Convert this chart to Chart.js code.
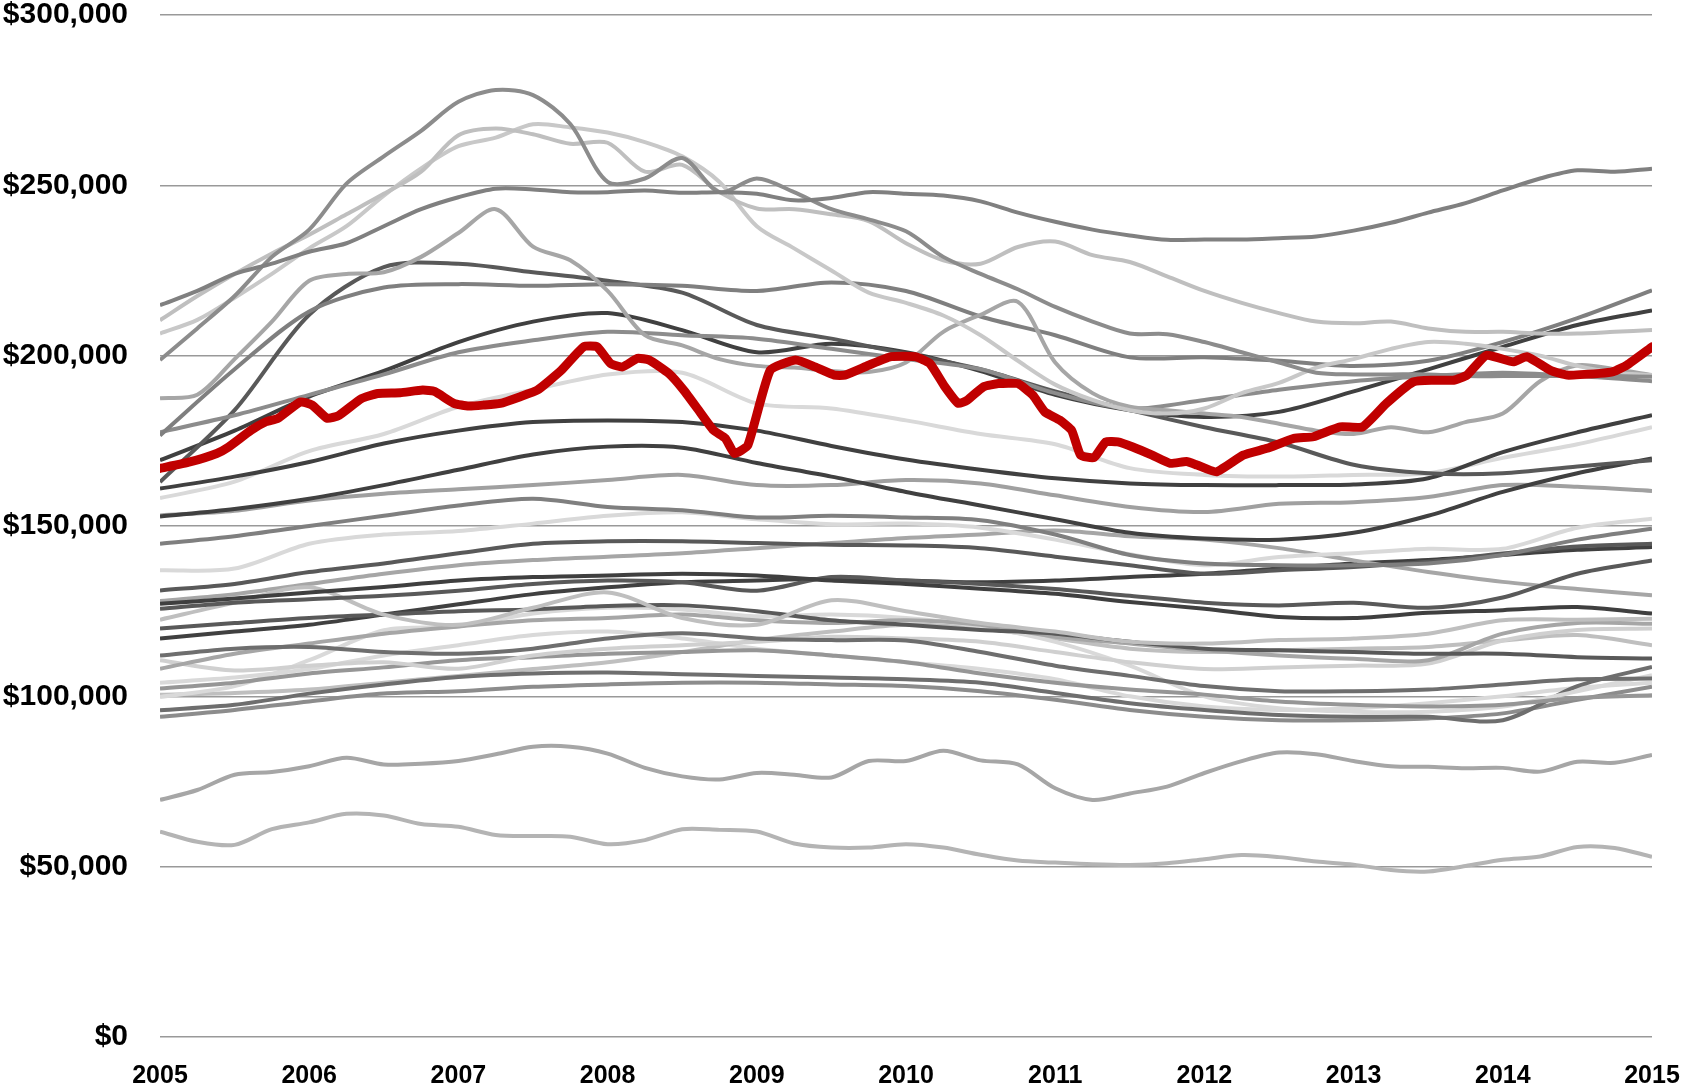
<!DOCTYPE html>
<html lang="en">
<head>
<meta charset="UTF-8">
<title>Home values 2005-2015</title>
<script src="https://cdn.jsdelivr.net/npm/chart.js@4"></script>
<style>
    html, body { margin: 0; padding: 0; background: #ffffff; overflow: hidden; }
    .chart-box { position: relative; width: 1682px; height: 1086px; }
</style>
</head>
<body>
<div class="chart-box"><canvas id="valuesChart"></canvas></div>
<script>
// x positions in years (quarterly and half-yearly readings)
const quarters = Array.from({ length: 41 }, (_, i) => 2005 + i * 0.25);
const halves = Array.from({ length: 21 }, (_, i) => 2005 + i * 0.5);

// values in thousands of dollars
// highlighted series (read at irregular points)
const redYears = [2005.0, 2005.2, 2005.38, 2005.46, 2005.61, 2005.71, 2005.79, 2005.94,
    2006.02, 2006.12, 2006.2, 2006.35, 2006.46, 2006.61, 2006.76, 2006.84, 2006.97,
    2007.07, 2007.17, 2007.28, 2007.41, 2007.53, 2007.69, 2007.84, 2007.93,
    2008.02, 2008.1, 2008.2, 2008.28, 2008.41, 2008.51, 2008.61, 2008.71, 2008.79, 2008.85, 2008.94,
    2009.09, 2009.26, 2009.39, 2009.52, 2009.59, 2009.75, 2009.9,
    2010.06, 2010.16, 2010.26, 2010.35, 2010.41, 2010.52, 2010.62, 2010.75, 2010.85, 2010.93,
    2011.03, 2011.11, 2011.17, 2011.26, 2011.34, 2011.42, 2011.52, 2011.65, 2011.77, 2011.88, 2011.95,
    2012.08, 2012.26, 2012.42, 2012.6, 2012.73, 2012.91,
    2013.06, 2013.22, 2013.4, 2013.53, 2013.67, 2013.76, 2013.89,
    2014.07, 2014.16, 2014.32, 2014.43, 2014.65, 2014.74, 2014.83, 2015.0];
const redValues = [166.9, 168.8, 171.3, 173.2, 178.1, 180.6, 181.6, 186.4,
    185.5, 181.6, 182.5, 187.4, 188.9, 189.1, 189.9, 189.5, 186,
    185.2, 185.5, 186, 187.9, 189.9, 195.7, 202.6, 202.6,
    197.7, 196.7, 199.2, 198.7, 194.8, 189.9, 184, 178.1, 175.7, 171.3, 173.7,
    195.7, 198.7, 196.7, 194.3, 194.3, 197.2, 199.7,
    199.7, 197.7, 190.9, 186, 186.9, 190.9, 191.8, 191.8, 188.4, 183.5,
    181.1, 178.1, 170.8, 170.1, 174.7, 174.7, 173.2, 170.8, 168.4, 168.9, 167.9,
    165.9, 170.8, 172.8, 175.7, 176.2, 179.1,
    179.1, 186, 192.3, 192.8, 192.8, 194.3, 200.1,
    198.2, 199.7, 195.7, 194.3, 194.8, 195.3, 197.2, 202.6];

// grey series read quarterly
const g1 = [214.8, 219, 224, 227, 230.5, 233, 238, 243, 246.5, 249, 248.8, 248, 248, 248.5, 247.8, 248, 247.5, 245.6, 246.3, 248, 247.5, 247, 245.3, 242, 239.3, 237, 235.3, 234, 234.1, 234.1, 234.5, 235, 236.7, 239, 242, 244.8, 248.5, 252, 254.4, 254, 254.9];
const g2 = [198.7, 208, 217.5, 229, 237, 250.5, 258.5, 266, 274.5, 278, 276.5, 268, 251, 252, 258, 248, 252, 248, 243, 240, 236.5, 229, 224, 219.5, 214.3, 210, 206.5, 206.3, 204, 201, 198, 195, 194.5, 194.5, 194.5, 194, 194, 194, 194, 194, 193.8];
const g3 = [210.4, 217.5, 224, 230, 235.5, 241.5, 247.5, 254, 264.7, 266.7, 265, 262.2, 262.5, 254, 256, 248, 243.2, 243, 241.5, 239.5, 233, 228, 227, 231.9, 233.5, 229.5, 227.5, 223.3, 219, 215.5, 212.5, 210, 209.5, 210, 208, 207, 207, 206.5, 206.5, 207, 207.5];
const g4 = [206.5, 210.5, 217, 224, 231.5, 238, 247, 255, 261.5, 264, 267.9, 267, 265.5, 262.7, 258.5, 251, 238, 231.5, 225, 218.5, 215.5, 211.8, 206, 198.5, 191.5, 187, 184, 183, 184.5, 189, 192, 196.5, 199, 202, 204, 203.5, 202, 200, 197, 195, 194.3];
const g6 = [187.5, 188.5, 199, 210, 222, 224, 224.5, 229, 236, 243, 232, 228, 219, 206, 203, 199, 197, 196.5, 195.5, 195.2, 198, 207, 212, 215.8, 198, 189, 185, 184, 183, 182, 180, 178, 177, 179, 177.5, 180.5, 183, 192.5, 197.2, 196, 194.3];
const b1 = [69.6, 72.5, 77, 77.8, 79.5, 82, 80, 80.2, 81, 83, 85.2, 85.2, 83.2, 79, 76.5, 75.6, 77.5, 77, 76.2, 81, 81, 84, 81.2, 80, 73, 69.6, 71.5, 73.5, 77.5, 81, 83.5, 83, 81, 79.5, 79.3, 78.9, 79, 77.9, 80.8, 80.5, 82.8];
const b2 = [60.3, 57.3, 56.4, 61, 63, 65.5, 65, 62.5, 61.7, 59.3, 59, 58.8, 56.6, 57.8, 61, 60.8, 60.3, 56.8, 55.6, 55.6, 56.6, 55.6, 53.5, 51.8, 51.2, 50.7, 50.5, 51, 52.2, 53.4, 52.8, 51.5, 50.6, 49, 48.6, 50.2, 52, 53, 55.8, 55.5, 52.9];

// grey series read half-yearly
const g5 = [176.6, 196, 213, 220, 221, 220.5, 221, 220.5, 219, 221.5, 219, 211.5, 206, 199.5, 199.5, 198.5, 197, 198.5, 204, 211, 219.2];
const g7 = [177.5, 182.5, 188.5, 194.5, 201, 204.5, 207, 206, 205, 202, 199, 196, 189, 184.5, 187, 190, 192.5, 194, 195, 194, 192.5];
const g8 = [162.9, 184, 212, 226, 227, 224.5, 222, 218.5, 209, 205, 200.5, 196, 189.5, 184, 179, 174.5, 168, 165.5, 165.5, 167.5, 169.3];
const g9 = [169.3, 178, 188, 195.5, 204, 210, 212.5, 207.5, 201, 203.5, 201, 195.5, 188.5, 184, 182, 183.5, 189.5, 196, 202.6, 209, 213.3];
const g10 = [161, 164.5, 168.8, 174.2, 178, 180.5, 181, 180.5, 178, 173.5, 169.5, 166.5, 164, 162.5, 162, 162, 162.2, 164, 171.7, 177.5, 182.5];
const g12 = [158.2, 163, 172, 177, 185, 190, 194.5, 195, 186, 184.5, 181, 177, 174, 167, 165, 164.5, 165, 165.5, 170, 174, 179];
const g13 = [152.8, 155, 158, 162, 166.5, 171, 173.3, 173, 168.5, 164.5, 160, 156, 152, 148, 146.3, 146, 148, 153, 160, 165.5, 169.8];
const g14 = [153.1, 154.5, 157.5, 159.5, 160.8, 162, 163.5, 165, 162, 162, 163.5, 162.5, 159, 155.6, 154.1, 156.5, 157, 158.5, 162, 161.5, 160.3];
const g15 = [144.8, 147, 150, 153, 156, 158, 155.6, 154.6, 152.5, 153, 152.5, 151.7, 147.5, 141.5, 139, 138.5, 138.5, 139, 141.5, 146, 149.2];
const g16 = [137, 137.5, 144.8, 147.5, 148.5, 150.7, 153, 154, 152, 150.5, 150.7, 149.5, 146, 141.7, 138.5, 140.9, 142, 143.3, 143.3, 149.5, 152.1];
const g17 = [131.1, 133, 136.5, 139, 142, 144.8, 145.5, 145.5, 145, 144.5, 144.3, 143.5, 141, 138.5, 136, 137, 138, 139.5, 141.9, 144, 144.8];
const g18 = [127.2, 128.7, 130.5, 132.1, 134, 135, 135.5, 136, 135.5, 134, 133, 131.6, 130.1, 127.7, 125.7, 123.3, 123, 124.5, 125.3, 126.2, 124.3];
const g19 = [125.7, 127.5, 128.5, 129.5, 131, 133, 134, 133.5, 131, 135, 134, 133, 131.5, 129.5, 127.5, 126.7, 127.5, 126, 129, 136, 139.9];
const la = [122.5, 127.5, 132, 124, 121, 126, 130.5, 123, 121, 128.2, 125, 121.5, 119, 116, 115.5, 116.5, 117, 118.4, 122.3, 122.5, 122.8];
const lb = [119.9, 121.5, 123, 124, 125, 125.5, 126.5, 126.7, 125, 122.3, 121, 119.5, 118.4, 116, 114, 113.5, 113, 112.5, 112.5, 111.5, 111.1];
const lc = [112, 114, 114.5, 113, 112.5, 114, 117, 118.5, 117, 116.5, 116.4, 113, 109, 106, 103, 101.5, 101.5, 102, 103.5, 105, 105.2];
const ld = [108.1, 112.5, 115.5, 118.4, 120.5, 122.3, 123, 124, 122.3, 121.5, 122.3, 121, 117.5, 115.5, 113.5, 112, 111, 110.6, 118.4, 121.5, 121.3];
const le = [110.6, 107.6, 109, 110, 108.1, 112, 114, 115, 116, 117.5, 117, 116, 113, 110, 108, 108.5, 109, 109.6, 116.4, 119.5, 119.9];
const lf = [102.3, 104, 106.7, 108.5, 110.6, 111.5, 112.5, 113, 113.5, 112, 110, 106.7, 104, 102, 100.5, 98.5, 97.5, 97, 97.5, 99.5, 100.3];
const lg = [99.8, 103, 110.6, 119.4, 120.5, 124.3, 126, 125.5, 123.5, 124, 123, 120.5, 116, 109, 100, 96.5, 95.5, 95.5, 97, 101.5, 106.2];
const lh = [95.9, 97.5, 100.8, 103.5, 105.7, 106.7, 107, 106.5, 106, 105.5, 105, 104, 101, 98, 96, 94.5, 94, 94, 93, 103, 108.6];
const li = [94, 96, 98.5, 100.8, 101.5, 102.8, 103.5, 104, 104, 103.5, 103, 101.5, 99, 96, 94, 93, 93, 93.5, 95, 99, 102.8];
const lj = [100.5, 101, 102, 104, 106, 108, 110, 113, 116.5, 119, 121, 120, 117, 114, 113, 113.5, 114, 114.5, 116.4, 118, 115];
const lk = [128, 130, 133, 136, 138.5, 140, 141, 142, 143.5, 145, 146.5, 147.5, 148.7, 147, 146, 143.5, 139.9, 136.5, 133.6, 131.5, 129.7];
const ll = [117, 119, 121, 124, 127, 130, 132, 133.5, 134, 134.5, 134, 133.5, 134, 135, 136, 137.5, 139, 140, 141.5, 143, 143.8];
const lm = [104, 105.5, 108, 112, 115, 118, 119, 117, 114, 112, 110, 108, 105, 100, 97, 96, 96.5, 98, 100, 102.5, 104];

function greyLine(xs, ys, color) {
    return {
        data: xs.map((x, i) => ({ x: x, y: ys[i] })),
        borderColor: color,
        borderWidth: 4,
        pointRadius: 0,
        tension: 0.3,
        order: 1
    };
}

const datasets = [
    {
        data: redYears.map((x, i) => ({ x: x, y: redValues[i] })),
        borderColor: '#c00000',
        borderWidth: 9,
        borderJoinStyle: 'round',
        borderCapStyle: 'round',
        pointRadius: 0,
        tension: 0.15,
        order: 0
    },
    greyLine(quarters, g1, '#808080'),
    greyLine(quarters, g2, '#8c8c8c'),
    greyLine(quarters, g3, '#bfbfbf'),
    greyLine(quarters, g4, '#c8c8c8'),
    greyLine(quarters, g6, '#a6a6a6'),
    greyLine(quarters, b1, '#a6a6a6'),
    greyLine(quarters, b2, '#b4b4b4'),
    greyLine(halves, g5, '#7f7f7f'),
    greyLine(halves, g7, '#8c8c8c'),
    greyLine(halves, g8, '#595959'),
    greyLine(halves, g9, '#404040'),
    greyLine(halves, g10, '#404040'),
    greyLine(halves, g12, '#d9d9d9'),
    greyLine(halves, g13, '#404040'),
    greyLine(halves, g14, '#a0a0a0'),
    greyLine(halves, g15, '#7f7f7f'),
    greyLine(halves, g16, '#d9d9d9'),
    greyLine(halves, g17, '#595959'),
    greyLine(halves, g18, '#3f3f3f'),
    greyLine(halves, g19, '#595959'),
    greyLine(halves, la, '#bfbfbf'),
    greyLine(halves, lb, '#595959'),
    greyLine(halves, lc, '#6e6e6e'),
    greyLine(halves, ld, '#a6a6a6'),
    greyLine(halves, le, '#d0d0d0'),
    greyLine(halves, lf, '#969696'),
    greyLine(halves, lg, '#d9d9d9'),
    greyLine(halves, lh, '#6e6e6e'),
    greyLine(halves, li, '#8c8c8c'),
    greyLine(halves, lj, '#bfbfbf'),
    greyLine(halves, lk, '#a6a6a6'),
    greyLine(halves, ll, '#404040'),
    greyLine(halves, lm, '#d9d9d9')
];

const tickFont = { family: "'Liberation Sans', Arial, sans-serif", weight: 'bold', lineHeight: 1 };

new Chart(document.getElementById('valuesChart'), {
    type: 'line',
    data: { datasets: datasets },
    options: {
        responsive: true,
        maintainAspectRatio: false,
        animation: false,
        layout: { padding: 0, autoPadding: false },
        plugins: {
            legend: { display: false },
            tooltip: { enabled: false }
        },
        scales: {
            x: {
                type: 'linear',
                min: 2005,
                max: 2015,
                grid: { display: false, drawTicks: false },
                border: { display: false },
                // fixed axis box so the plot lines up with the reference
                afterFit: scale => {
                    scale.height = 49;
                    scale.paddingLeft = 28;
                    scale.paddingRight = 30;
                },
                ticks: {
                    stepSize: 1,
                    autoSkip: false,
                    maxRotation: 0,
                    padding: 27,
                    color: '#000000',
                    font: Object.assign({ size: 25 }, tickFont),
                    callback: v => String(v)
                }
            },
            y: {
                min: 0,
                max: 300,
                grid: { color: '#999999', lineWidth: 1.5, drawTicks: false },
                border: { display: false },
                afterFit: scale => {
                    scale.width = 160;
                    scale.paddingTop = 15;
                    scale.paddingBottom = 15;
                },
                ticks: {
                    stepSize: 50,
                    padding: 32,
                    color: '#000000',
                    font: Object.assign({ size: 30 }, tickFont),
                    callback: v => '$' + (v * 1000).toLocaleString('en-US')
                }
            }
        }
    }
});
</script>
</body>
</html>
